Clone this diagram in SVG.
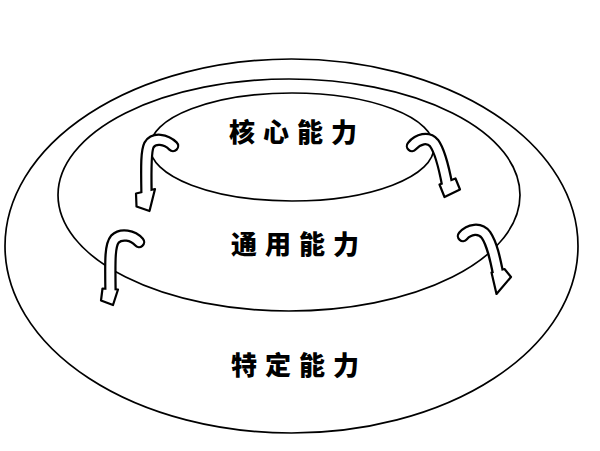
<svg xmlns="http://www.w3.org/2000/svg" width="600" height="451" viewBox="0 0 600 451">
<style>
.ring{fill:none;stroke:#000;stroke-width:1.7}
.lbl{font-family:"Noto Sans CJK SC","Noto Sans",sans-serif;font-weight:900;font-size:26px;fill:#000;letter-spacing:8px}
.sb{fill:none;stroke:#000;stroke-width:12.5;stroke-linecap:round}
.sw{fill:none;stroke:#fff;stroke-width:8;stroke-linecap:round}
.hd{fill:#fff;stroke:#000;stroke-width:2.2;stroke-linejoin:round}
</style>
<rect width="600" height="451" fill="#fff"/>
<g id="outer"><ellipse class="ring" cx="291.5" cy="246" rx="286.5" ry="187"/><text class="lbl" x="231" y="375">特定能力</text></g>
<g id="middle"><ellipse class="ring" cx="289" cy="195" rx="231" ry="116"/><text class="lbl" x="231" y="254">通用能力</text></g>
<g id="inner"><ellipse class="ring" cx="292" cy="147" rx="142" ry="54"/><text class="lbl" x="229" y="142">核心能力</text></g>
<g id="connectors">
<g id="a1">
<path class="sb" d="M173,146 C166,139 154,137 149,145 C146,151 146,165 146.5,191"/>
<polygon class="hd" points="136,193.5 136.5,206.5 149.5,211 155,189"/>
<path class="sw" d="M173,146 C166,139 154,137 149,145 C146,151 146,165 146.5,194"/>
</g>
<g id="a2">
<path class="sb" d="M412,146 C418,139 428,136 434,143 C440,151 444,168 447,184"/>
<polygon class="hd" points="439.5,184.5 444.5,197 460,189.5 455.5,178.5"/>
<path class="sw" d="M412,146 C418,139 428,136 434,143 C440,151 444,168 447.6,187"/>
</g>
<g id="a3">
<path class="sb" d="M139,242 C133,235 121,233 115,239 C110,245 110,258 110.5,289"/>
<polygon class="hd" points="102.5,288.5 101,300.5 113,305 118,289.5"/>
<path class="sw" d="M139,242 C133,235 121,233 115,239 C110,245 110,258 110.5,292"/>
</g>
<g id="a4">
<path class="sb" d="M463,236 C469,229 480,227 486,235 C492,244 495,258 498,273"/>
<polygon class="hd" points="491.5,272.5 496.5,294 511,277 504.5,269"/>
<path class="sw" d="M463,236 C469,229 480,227 486,235 C492,244 495,258 498.6,276"/>
</g>
</g>
</svg>
